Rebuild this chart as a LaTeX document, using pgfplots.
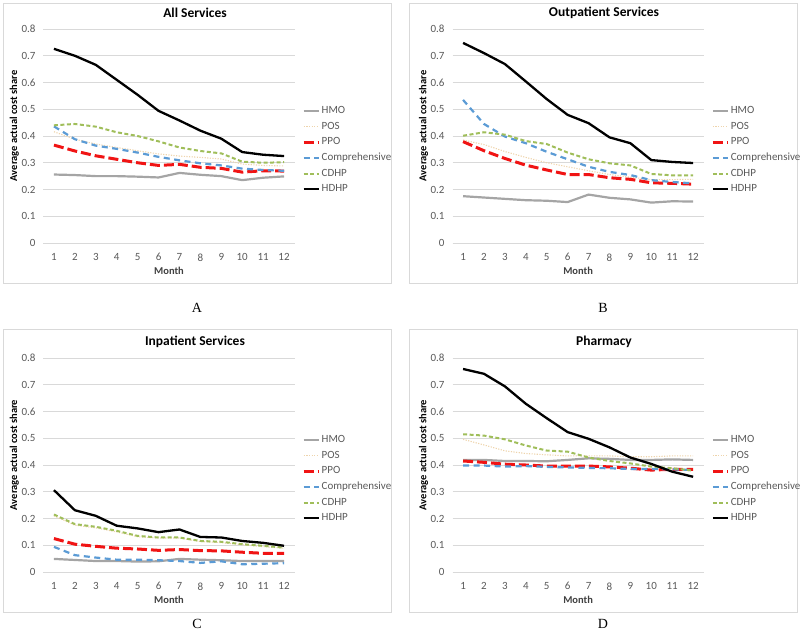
\documentclass[border=0pt]{standalone}
\usepackage{fontspec}
\setmainfont{Carlito}
\newfontfamily\serifl{Liberation Serif}
\usepackage{pgfplots}
\pgfplotsset{compat=1.18}
\definecolor{hmoc}{RGB}{165,165,165}
\definecolor{posc}{RGB}{238,212,172}
\definecolor{ppoc}{RGB}{240,20,20}
\definecolor{compc}{RGB}{91,155,213}
\definecolor{cdhpc}{RGB}{160,190,90}
\definecolor{gridc}{RGB}{217,217,217}
\definecolor{txtc}{RGB}{89,89,89}
\definecolor{ttlc}{RGB}{64,64,64}
\tikzset{
  sHMO/.style={hmoc, line width=2.2pt, line join=round},
  sPOS/.style={posc, line width=1.1pt, dash pattern=on 1.2pt off 1.4pt},
  sPPO/.style={ppoc, line width=3pt, dash pattern=on 10pt off 4pt},
  sCOMP/.style={compc, line width=2.2pt, dash pattern=on 6pt off 4.5pt},
  sCDHP/.style={cdhpc, line width=2pt, dash pattern=on 4pt off 2.5pt},
  sHDHP/.style={black, line width=2.3pt, line join=round},
  ttl/.style={font=\bfseries\fontsize{13.5}{15}\selectfont, text=black},
}
\pgfplotsset{
  panel/.style={
    scale only axis, width=251pt, height=214pt,
    xmin=0.5, xmax=12.5, ymin=0, ymax=0.8,
    xtick={1,2,3,4,5,6,7,8,9,10,11,12},
    xticklabels={1,2,3,4,5,6,7,8,9,10,11,12},
    ytick={0,0.1,0.2,0.3,0.4,0.5,0.6,0.7,0.8},
    yticklabels={0,0.1,0.2,0.3,0.4,0.5,0.6,0.7,0.8},
    axis lines=left,
    x axis line style={draw=gridc, line width=0.8pt, -},
    y axis line style={draw=none, -},
    major tick length=0pt,
    ymajorgrids, major grid style={gridc, line width=0.8pt},
    tick label style={font=\fontsize{11}{13}\selectfont, text=txtc},
    yticklabel style={xshift=-4.5pt},
    xticklabel style={yshift=-7pt},
    xlabel={\textbf{Month}},
    xlabel style={at={(axis description cs:0.5,0)}, anchor=center, yshift=-28pt, font=\fontsize{10.5}{12}\selectfont, text=ttlc},
    ylabel={\textbf{Average actual cost share}},
    ylabel style={at={(axis description cs:-0.116,0.547)}, anchor=center, font=\fontsize{10.5}{12}\selectfont, text=black},
    legend style={at={(axis description cs:1.03,0.645)}, anchor=north west, draw=none, fill=none,
      font=\fontsize{11}{13}\selectfont, text=txtc, inner sep=0pt, row sep=3.9pt,
      nodes={inner sep=1.5pt}},
    legend cell align=left,
    legend image code/.code={\draw[#1] (0pt,0pt) -- (15pt,0pt);},
    clip=false,
  }
}
\begin{document}
\begin{tikzpicture}[x=1pt,y=1pt]
\useasboundingbox (0,0) rectangle (800,641);
\draw[gridc, line width=0.8pt] (3,358) rectangle (391,638);
\draw[gridc, line width=0.8pt] (409,358) rectangle (797,638);
\draw[gridc, line width=0.8pt] (3,29) rectangle (391,312);
\draw[gridc, line width=0.8pt] (409,29) rectangle (797,312);
\node[font=\serifl\fontsize{14}{16}\selectfont] at (197,333) {A};
\node[font=\serifl\fontsize{14}{16}\selectfont] at (603,333) {B};
\node[font=\serifl\fontsize{14}{16}\selectfont] at (197,17) {C};
\node[font=\serifl\fontsize{14}{16}\selectfont] at (603,17) {D};
\node[ttl] at (195,628) {All Services};
\node[ttl] at (604,628) {Outpatient Services};
\node[ttl] at (195,299) {Inpatient Services};
\node[ttl] at (604,299) {Pharmacy};

% Panel A
\begin{axis}[panel, at={(43.5pt,398pt)}, anchor=south west]
\addplot[sHMO] coordinates {(1,0.256)(2,0.254)(3,0.250)(4,0.250)(5,0.248)(6,0.245)(7,0.262)(8,0.255)(9,0.250)(10,0.235)(11,0.244)(12,0.249)};
\addplot[sPOS] coordinates {(1,0.416)(2,0.388)(3,0.370)(4,0.357)(5,0.345)(6,0.333)(7,0.325)(8,0.320)(9,0.314)(10,0.295)(11,0.290)(12,0.288)};
\addplot[sPPO] coordinates {(1,0.366)(2,0.344)(3,0.326)(4,0.313)(5,0.300)(6,0.290)(7,0.294)(8,0.283)(9,0.279)(10,0.265)(11,0.270)(12,0.269)};
\addplot[sCOMP] coordinates {(1,0.436)(2,0.388)(3,0.364)(4,0.352)(5,0.338)(6,0.322)(7,0.309)(8,0.298)(9,0.290)(10,0.278)(11,0.273)(12,0.270)};
\addplot[sCDHP] coordinates {(1,0.440)(2,0.445)(3,0.435)(4,0.414)(5,0.400)(6,0.380)(7,0.357)(8,0.344)(9,0.335)(10,0.304)(11,0.300)(12,0.302)};
\addplot[sHDHP] coordinates {(1,0.726)(2,0.700)(3,0.666)(4,0.610)(5,0.554)(6,0.494)(7,0.458)(8,0.420)(9,0.390)(10,0.340)(11,0.330)(12,0.325)};
\legend{HMO,POS,PPO,Comprehensive,CDHP,HDHP}
\end{axis}

% Panel B
\begin{axis}[panel, at={(452.6pt,398pt)}, anchor=south west]
\addplot[sHMO] coordinates {(1,0.175)(2,0.170)(3,0.165)(4,0.160)(5,0.158)(6,0.153)(7,0.181)(8,0.169)(9,0.163)(10,0.151)(11,0.156)(12,0.155)};
\addplot[sPOS] coordinates {(1,0.385)(2,0.368)(3,0.342)(4,0.320)(5,0.300)(6,0.285)(7,0.270)(8,0.256)(9,0.246)(10,0.237)(11,0.237)(12,0.238)};
\addplot[sPPO] coordinates {(1,0.379)(2,0.345)(3,0.316)(4,0.291)(5,0.273)(6,0.256)(7,0.256)(8,0.244)(9,0.238)(10,0.225)(11,0.223)(12,0.220)};
\addplot[sCOMP] coordinates {(1,0.535)(2,0.445)(3,0.398)(4,0.373)(5,0.341)(6,0.313)(7,0.285)(8,0.266)(9,0.254)(10,0.235)(11,0.228)(12,0.223)};
\addplot[sCDHP] coordinates {(1,0.401)(2,0.414)(3,0.405)(4,0.381)(5,0.370)(6,0.338)(7,0.313)(8,0.298)(9,0.290)(10,0.258)(11,0.253)(12,0.253)};
\addplot[sHDHP] coordinates {(1,0.748)(2,0.710)(3,0.669)(4,0.604)(5,0.538)(6,0.479)(7,0.448)(8,0.395)(9,0.373)(10,0.310)(11,0.303)(12,0.299)};
\legend{HMO,POS,PPO,Comprehensive,CDHP,HDHP}
\end{axis}

% Panel C
\begin{axis}[panel, at={(43.5pt,69pt)}, anchor=south west]
\addplot[sHMO] coordinates {(1,0.049)(2,0.045)(3,0.041)(4,0.041)(5,0.039)(6,0.040)(7,0.049)(8,0.046)(9,0.044)(10,0.041)(11,0.041)(12,0.041)};
\addplot[sPOS] coordinates {(1,0.210)(2,0.175)(3,0.165)(4,0.150)(5,0.132)(6,0.127)(7,0.127)(8,0.114)(9,0.110)(10,0.102)(11,0.095)(12,0.089)};
\addplot[sPPO] coordinates {(1,0.125)(2,0.104)(3,0.096)(4,0.089)(5,0.086)(6,0.081)(7,0.084)(8,0.080)(9,0.079)(10,0.074)(11,0.070)(12,0.070)};
\addplot[sCOMP] coordinates {(1,0.094)(2,0.063)(3,0.054)(4,0.046)(5,0.046)(6,0.044)(7,0.041)(8,0.034)(9,0.040)(10,0.029)(11,0.031)(12,0.033)};
\addplot[sCDHP] coordinates {(1,0.215)(2,0.179)(3,0.169)(4,0.154)(5,0.135)(6,0.129)(7,0.129)(8,0.116)(9,0.113)(10,0.104)(11,0.098)(12,0.091)};
\addplot[sHDHP] coordinates {(1,0.306)(2,0.231)(3,0.210)(4,0.173)(5,0.163)(6,0.149)(7,0.159)(8,0.131)(9,0.129)(10,0.116)(11,0.109)(12,0.098)};
\legend{HMO,POS,PPO,Comprehensive,CDHP,HDHP}
\end{axis}

% Panel D
\begin{axis}[panel, at={(452.6pt,69pt)}, anchor=south west]
\addplot[sHMO] coordinates {(1,0.419)(2,0.419)(3,0.415)(4,0.415)(5,0.414)(6,0.419)(7,0.425)(8,0.423)(9,0.419)(10,0.419)(11,0.421)(12,0.419)};
\addplot[sPOS] coordinates {(1,0.496)(2,0.475)(3,0.453)(4,0.443)(5,0.438)(6,0.434)(7,0.434)(8,0.434)(9,0.431)(10,0.431)(11,0.434)(12,0.434)};
\addplot[sPPO] coordinates {(1,0.415)(2,0.410)(3,0.403)(4,0.400)(5,0.396)(6,0.396)(7,0.396)(8,0.393)(9,0.388)(10,0.381)(11,0.384)(12,0.384)};
\addplot[sCOMP] coordinates {(1,0.398)(2,0.398)(3,0.394)(4,0.396)(5,0.393)(6,0.391)(7,0.389)(8,0.388)(9,0.385)(10,0.385)(11,0.384)(12,0.381)};
\addplot[sCDHP] coordinates {(1,0.515)(2,0.510)(3,0.496)(4,0.473)(5,0.454)(6,0.450)(7,0.428)(8,0.415)(9,0.406)(10,0.394)(11,0.388)(12,0.379)};
\addplot[sHDHP] coordinates {(1,0.759)(2,0.741)(3,0.694)(4,0.629)(5,0.575)(6,0.523)(7,0.498)(8,0.466)(9,0.428)(10,0.404)(11,0.375)(12,0.356)};
\legend{HMO,POS,PPO,Comprehensive,CDHP,HDHP}
\end{axis}
\end{tikzpicture}
\end{document}
